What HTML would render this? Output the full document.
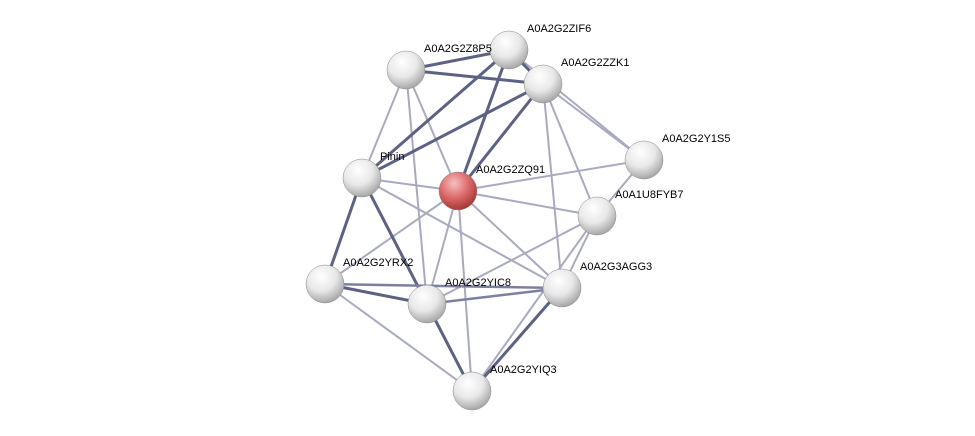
<!DOCTYPE html>
<html><head><meta charset="utf-8"><style>
html,body{margin:0;padding:0;background:#fff;}
svg{display:block;}
text{font-family:"Liberation Sans",sans-serif;font-size:11px;fill:#000;}
</style></head><body>
<svg width="975" height="436" viewBox="0 0 975 436">
<defs>
<radialGradient id="g" cx="40%" cy="30%" r="70%">
<stop offset="0" stop-color="#ffffff"/><stop offset="0.55" stop-color="#e8e8e8"/><stop offset="1" stop-color="#a8a8a8"/>
</radialGradient>
<radialGradient id="r" cx="40%" cy="30%" r="70%">
<stop offset="0" stop-color="#f4c0c0"/><stop offset="0.5" stop-color="#e07070"/><stop offset="1" stop-color="#a83838"/>
</radialGradient>
</defs>
<g stroke="#a9aabf" stroke-width="2" fill="none">
<line x1="406" y1="70" x2="362" y2="178"/>
<line x1="406" y1="70" x2="458" y2="191"/>
<line x1="406" y1="70" x2="427" y2="304"/>
<line x1="509" y1="50" x2="644" y2="160"/>
<line x1="543" y1="84" x2="644" y2="160"/>
<line x1="543" y1="84" x2="597" y2="216"/>
<line x1="543" y1="84" x2="562" y2="288"/>
<line x1="458" y1="191" x2="362" y2="178"/>
<line x1="458" y1="191" x2="644" y2="160"/>
<line x1="458" y1="191" x2="597" y2="216"/>
<line x1="458" y1="191" x2="325" y2="284"/>
<line x1="458" y1="191" x2="427" y2="304"/>
<line x1="458" y1="191" x2="472" y2="391"/>
<line x1="458" y1="191" x2="562" y2="288"/>
<line x1="362" y1="178" x2="562" y2="288"/>
<line x1="597" y1="216" x2="427" y2="304"/>
<line x1="597" y1="216" x2="562" y2="288"/>
<line x1="597" y1="216" x2="472" y2="391"/>
<line x1="325" y1="284" x2="472" y2="391"/>
<line x1="644" y1="160" x2="597" y2="216"/>
</g>
<g stroke="#5c6282" stroke-width="3" fill="none">
<line x1="406" y1="70" x2="509" y2="50"/>
<line x1="406" y1="70" x2="543" y2="84"/>
<line x1="509" y1="50" x2="543" y2="84"/>
<line x1="362" y1="178" x2="509" y2="50"/>
<line x1="362" y1="178" x2="543" y2="84"/>
<line x1="458" y1="191" x2="509" y2="50"/>
<line x1="458" y1="191" x2="543" y2="84"/>
<line x1="362" y1="178" x2="325" y2="284"/>
<line x1="362" y1="178" x2="427" y2="304"/>
<line x1="325" y1="284" x2="427" y2="304"/>
<line x1="427" y1="304" x2="472" y2="391"/>
<line x1="562" y1="288" x2="472" y2="391"/>
</g>
<g stroke="#7c80a0" stroke-width="2.5" fill="none">
<line x1="325" y1="284" x2="562" y2="288"/>
<line x1="427" y1="304" x2="562" y2="288"/>
</g>
<g stroke="#888" stroke-width="0.5">
<circle cx="509" cy="50" r="19" fill="url(#g)"/>
<circle cx="406" cy="70" r="19" fill="url(#g)"/>
<circle cx="543" cy="84" r="19" fill="url(#g)"/>
<circle cx="644" cy="160" r="19" fill="url(#g)"/>
<circle cx="362" cy="178" r="19" fill="url(#g)"/>
<circle cx="458" cy="191" r="19" fill="url(#r)"/>
<circle cx="597" cy="216" r="19" fill="url(#g)"/>
<circle cx="325" cy="284" r="19" fill="url(#g)"/>
<circle cx="427" cy="304" r="19" fill="url(#g)"/>
<circle cx="562" cy="288" r="19" fill="url(#g)"/>
<circle cx="472" cy="391" r="19" fill="url(#g)"/>
</g>
<text x="527" y="32">A0A2G2ZIF6</text>
<text x="424" y="52">A0A2G2Z8P5</text>
<text x="561" y="66">A0A2G2ZZK1</text>
<text x="662" y="142">A0A2G2Y1S5</text>
<text x="380" y="160">Pinin</text>
<text x="476" y="173">A0A2G2ZQ91</text>
<text x="615" y="198">A0A1U8FYB7</text>
<text x="343" y="266">A0A2G2YRX2</text>
<text x="445" y="286">A0A2G2YIC8</text>
<text x="580" y="270">A0A2G3AGG3</text>
<text x="490" y="373">A0A2G2YIQ3</text>
</svg>
</body></html>
